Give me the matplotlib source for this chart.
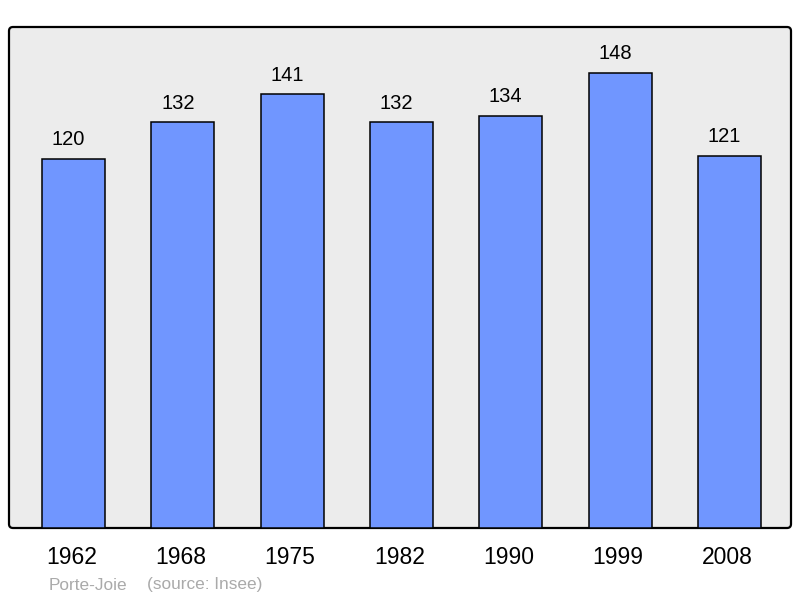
import matplotlib.pyplot as plt
from matplotlib.patches import FancyBboxPatch
from matplotlib.transforms import IdentityTransform, ScaledTranslation

plt.rcParams['font.family'] = ['Liberation Sans', 'DejaVu Sans']

years = ['1962', '1968', '1975', '1982', '1990', '1999', '2008']
population = [120, 132, 141, 132, 134, 148, 121]
commune = 'Porte-Joie'
source = '(source: Insee)'

fig = plt.figure(figsize=(8, 5.98), dpi=100)
ax = fig.add_axes([9 / 800, 70 / 598, 782 / 800, 501 / 598])

# panneau gris aux coins arrondis
panel = FancyBboxPatch((9, 70), 782, 501, boxstyle='round,pad=0,rounding_size=4',
                       transform=IdentityTransform(), facecolor='#ececec',
                       edgecolor='black', linewidth=1.6, zorder=-5)
fig.patches.append(panel)
ax.set_facecolor('none')
for s in ax.spines.values():
    s.set_visible(False)

x = range(len(years))
ax.bar(x, population, width=0.576, color='#7096ff', edgecolor='black',
       linewidth=1.1, zorder=2)
for xi, v in zip(x, population):
    ax.annotate(str(v), (xi, v), xytext=(-5, 19), textcoords='offset pixels',
                ha='center', va='center', fontsize=14.5)

ax.set_xlim(-0.59, 6.563)
ax.set_ylim(0, 162.9)
ax.set_yticks([])
ax.set_xticks(list(x))
ax.set_xticklabels(years, fontsize=16.5)
ax.tick_params(axis='x', length=0, pad=13)
shift = ScaledTranslation(-2 / 100, 0, fig.dpi_scale_trans)
for lab in ax.get_xticklabels():
    lab.set_transform(lab.get_transform() + shift)

fig.text(49 / 800, 1 - 585 / 598, commune, color='#aaaaaa', fontsize=12.4, va='center')
fig.text(147 / 800, 1 - 585 / 598, source, color='#aaaaaa', fontsize=12.4, va='center')

fig.savefig('out.png', dpi=100)
